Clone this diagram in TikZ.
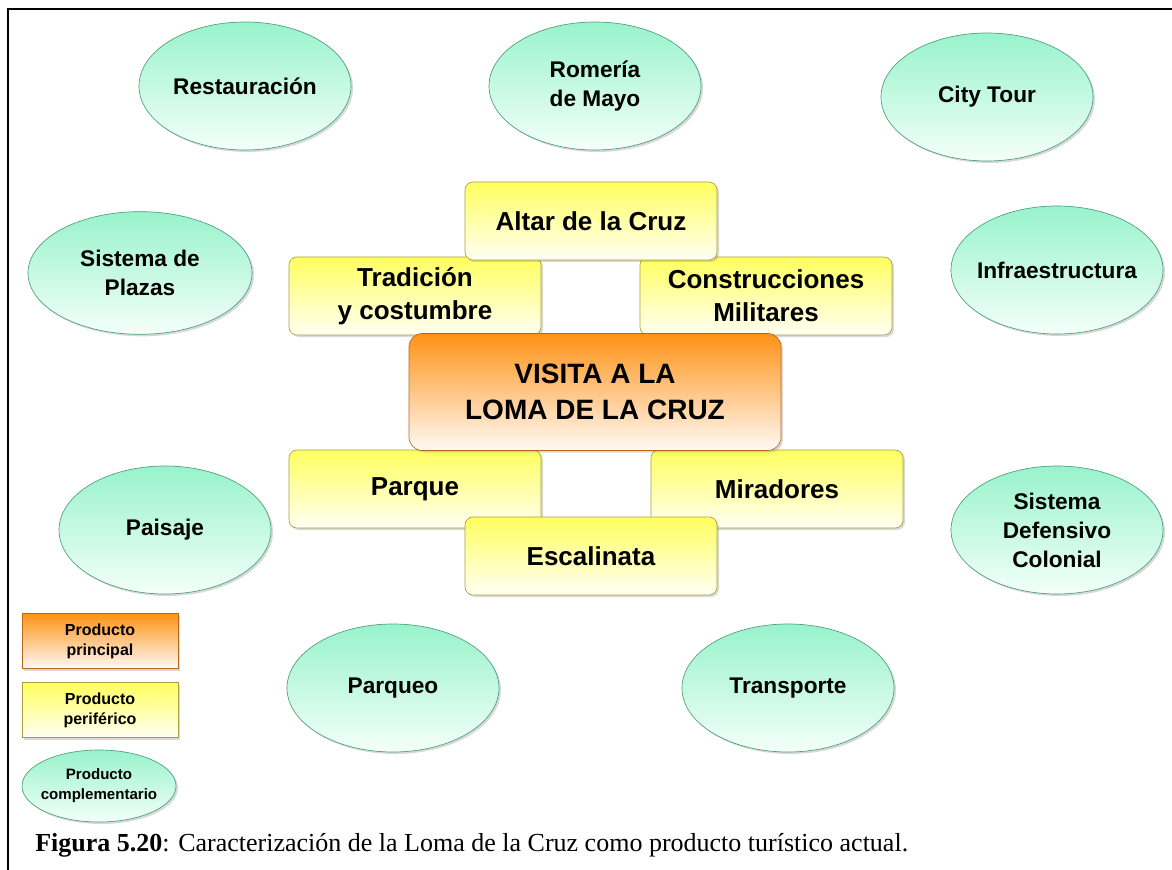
\documentclass[tikz,border=0pt]{standalone}
\usepackage{fontspec}
\setmainfont{Liberation Sans}
\newfontfamily\capfont{Liberation Serif}
\usetikzlibrary{shapes.geometric, shadows}
\definecolor{mintTop}{HTML}{98F3CB}
\definecolor{mintBot}{HTML}{F4FFFA}
\definecolor{mintLine}{HTML}{4E9E7C}
\definecolor{yelTop}{HTML}{FFFF5E}
\definecolor{yelBot}{HTML}{FFFFF4}
\definecolor{yelLine}{HTML}{A8A040}
\definecolor{orTop}{HTML}{FF9215}
\definecolor{orBot}{HTML}{FFFAF6}
\definecolor{orLine}{HTML}{B8661A}
\tikzset{
  shd/.style={drop shadow={opacity=0.3, shadow xshift=1.5pt, shadow yshift=-1.5pt}},
  compl/.style={ellipse, draw=mintLine, line width=0.5pt, top color=mintTop, bottom color=mintBot, shd,
    inner xsep=-8pt, inner ysep=0pt,
    minimum width=159pt, minimum height=96pt, align=center, font=\fontsize{17}{21.75}\selectfont\bfseries},
  peri/.style={draw=yelLine, line width=0.5pt, rounded corners=6pt, top color=yelTop, bottom color=yelBot, shd,
    minimum width=189pt, minimum height=58.5pt, align=center, font=\fontsize{19.5}{24.75}\selectfont\bfseries},
  prin/.style={draw=orLine, line width=0.5pt, rounded corners=10pt, top color=orTop, bottom color=orBot, shd,
    minimum width=279pt, minimum height=87.75pt, align=center, font=\fontsize{21}{27}\selectfont\bfseries},
  leg/.style={draw=#1Line, line width=0.5pt, top color=#1Top, bottom color=#1Bot, shd,
    minimum width=117pt, minimum height=41.25pt, align=center, font=\fontsize{12}{15}\selectfont\bfseries},
}
\begin{document}
\begin{tikzpicture}[x=0.75pt, y=-0.75pt]
  \useasboundingbox (0,0) rectangle (1172,870);
  \draw[line width=2.2pt] (8,870) -- (8,9) -- (1172,9);
  % complementary products
  \node[compl] (rest) at (245,86) {Restauración};
  \node[compl] (rom) at (595,86) {Romería\\de Mayo};
  \node[compl] (city) at (987,97) {City Tour};
  \node[compl, minimum width=168pt, minimum height=92pt] (plaz) at (140,273) {Sistema de\\Plazas};
  \node[compl] (infra) at (1057,270) {Infraestructura};
  \node[compl] (pais) at (165,530) {Paisaje};
  \node[compl] (sdc) at (1057,530) {Sistema\\Defensivo\\Colonial};
  \node[compl] (parqueo) at (393,688) {Parqueo};
  \node[compl] (transp) at (788,688) {Transporte};
  % peripheral products
  \node[peri] (trad) at (415,296) {Tradición\\y costumbre};
  \node[peri] (cons) at (766,296) {Construcciones\\Militares};
  \node[peri] (altar) at (591,221) {Altar de la Cruz};
  \node[peri] (parque) at (415,489) {Parque};
  \node[peri] (mir) at (777,489) {Miradores};
  \node[peri] (esc) at (591,556) {Escalinata};
  % main product
  \node[prin] (visita) at (595,392) {VISITA A LA\\LOMA DE LA CRUZ};
  % legend
  \node[leg=or] (lprin) at (100,641) {Producto\\principal};
  \node[leg=yel] (lperi) at (100,710) {Producto\\periférico};
  \node[compl, minimum width=115.5pt, minimum height=54pt, font=\fontsize{11.3}{15}\selectfont\bfseries] (lcomp) at (99,786) {Producto\\complementario};
  \node[anchor=base west, inner sep=0pt, font=\capfont\fontsize{19.5}{22}\selectfont] (cap) at (35,851)
    {\textbf{Figura 5.20}: Caracterización de la Loma de la Cruz como producto turístico actual.};
\end{tikzpicture}
\end{document}
